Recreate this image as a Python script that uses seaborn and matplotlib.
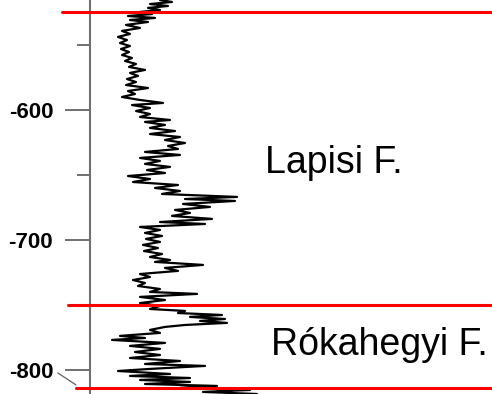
import matplotlib
matplotlib.use("Agg")
import matplotlib.pyplot as plt
import matplotlib.transforms as mtransforms
import seaborn as sns
import pandas as pd

# Depth (m) and log value (arbitrary units from the track's left edge)
depth = [-515.4, -516.9, -518.5, -520.0, -521.5, -523.1, -524.6, -526.2, -527.7, -529.2,
         -530.8, -532.3, -534.6, -536.9, -539.2, -541.5, -543.8, -546.2, -548.5, -550.8,
         -553.1, -555.4, -557.7, -560.0, -562.3, -564.6, -566.9, -569.2, -571.5, -573.8,
         -576.2, -578.5, -580.8, -583.1, -585.4, -587.7, -590.0, -592.3, -594.6, -596.2,
         -598.5, -600.8, -603.1, -605.4, -607.7, -609.2, -611.5, -613.8, -616.2, -618.5,
         -620.8, -623.1, -625.4, -627.7, -630.0, -632.3, -634.6, -636.9, -639.2, -641.5,
         -643.8, -646.2, -648.5, -650.8, -653.1, -655.4, -657.7, -660.0, -662.3, -664.6,
         -666.9, -668.5, -670.0, -672.3, -674.6, -676.9, -679.2, -681.5, -683.8, -686.2,
         -687.7, -690.0, -692.3, -694.6, -696.9, -699.2, -701.5, -703.8, -706.2, -708.5,
         -710.8, -713.1, -715.4, -716.9, -719.2, -721.5, -723.8, -726.2, -728.5, -730.8,
         -733.1, -735.4, -737.7, -740.0, -741.5, -743.8, -746.2, -748.5, -750.8, -753.1,
         -754.6, -756.2, -757.7, -759.2, -760.8, -762.3, -763.8, -765.4, -766.9, -769.2,
         -771.5, -773.8, -775.4, -776.9, -779.2, -781.5, -783.8, -786.2, -788.5, -790.8,
         -793.1, -795.4, -796.9, -799.2, -800.8, -803.1, -804.6, -806.2, -807.7, -809.2,
         -810.8, -812.3, -813.8, -815.4, -816.9, -818.5]
log_value = [70, 82, 60, 78, 58, 70, 50, 62, 38, 65,
             40, 58, 36, 50, 32, 40, 28, 37, 30, 40,
             31, 39, 32, 42, 35, 46, 39, 55, 40, 48,
             37, 46, 36, 58, 38, 45, 32, 50, 73, 42,
             60, 46, 60, 50, 80, 55, 75, 60, 85, 60,
             90, 75, 95, 78, 88, 55, 90, 50, 70, 55,
             80, 57, 75, 38, 60, 43, 88, 65, 90, 72,
             147, 95, 145, 93, 120, 85, 100, 82, 122, 70,
             115, 50, 70, 55, 72, 56, 70, 53, 68, 54,
             72, 60, 80, 65, 113, 75, 88, 50, 60, 43,
             55, 48, 70, 60, 107, 50, 75, 50, 70, 60,
             95, 88, 132, 100, 135, 110, 137, 95, 75, 60,
             70, 30, 55, 22, 75, 40, 70, 45, 70, 40,
             90, 55, 115, 60, 28, 80, 40, 100, 50, 100,
             55, 127, 90, 160, 113, 167]

# Formation boundaries and labels
boundaries = [-525.0, -749.8, -813.6]
boundary_starts = [-0.07, -0.055, -0.035]   # where each red line starts (axes fraction)
formations = ["Lapisi F.", "Rókahegyi F."]
formation_depths = [-641.0, -780.5]
formation_x = [244, 289]

yticks_major = [-600, -700, -800]
yticks_minor = [-550, -650, -750]

df = pd.DataFrame({"depth": depth, "value": log_value})

sns.set_style("white")
plt.rcParams["font.family"] = ["Liberation Sans", "DejaVu Sans"]

fig = plt.figure(figsize=(4.92, 3.94), dpi=100)
ax = fig.add_axes([90 / 492, 0.0, 402 / 492, 1.0])

sns.lineplot(data=df, x="value", y="depth", sort=False, estimator=None,
             orient="y", color="black", linewidth=1.6, ax=ax)

ax.set_xlim(0, 402)
ax.set_ylim(-818.5, -515.4)

for spine in ["top", "right", "bottom"]:
    ax.spines[spine].set_visible(False)
ax.spines["left"].set_color("#707070")
ax.spines["left"].set_linewidth(1.5)

ax.set_xticks([])
ax.set_yticks(yticks_major)
ax.set_yticklabels([str(t) for t in yticks_major])
ax.set_yticks(yticks_minor, minor=True)
ax.tick_params(axis="y", which="major", length=18, width=1.4, color="#707070",
               pad=8.5, labelsize=16, labelcolor="black", left=True)
ax.tick_params(axis="y", which="minor", length=9.5, width=1.4, color="#707070", left=True)
for lbl in ax.get_yticklabels():
    lbl.set_fontweight("bold")
ax.set_xlabel("")
ax.set_ylabel("")

trans = mtransforms.blended_transform_factory(ax.transAxes, ax.transData)
for b, s in zip(boundaries, boundary_starts):
    ax.plot([s, 1.0], [b, b], transform=trans, color="#ff0000", linewidth=2.2,
            clip_on=False, zorder=5)

# small stray mark near -800
ax.plot([-0.08, -0.035], [-802.3, -811.5], transform=trans, color="#606060",
        linewidth=0.9, clip_on=False)

for name, d, x in zip(formations, formation_depths, formation_x):
    ax.text(x, d, name, fontsize=27, ha="center", va="center", color="black")

fig.savefig("out.png", dpi=100)
